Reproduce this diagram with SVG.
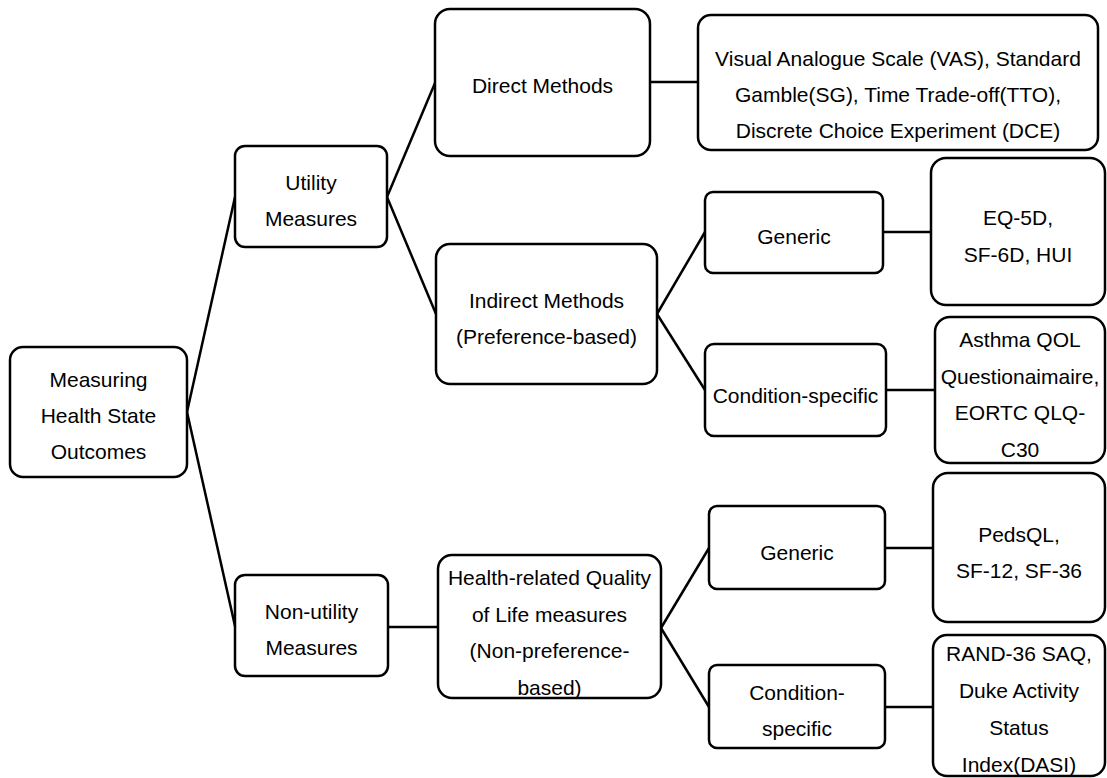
<svg xmlns="http://www.w3.org/2000/svg" width="1107" height="778" viewBox="0 0 1107 778">
<style>
  .box { fill: #ffffff; stroke: #000000; stroke-width: 2.5; }
  .conn line { stroke: #000000; stroke-width: 2.5; fill: none; }
  text { font-family: "Liberation Sans", Arial, sans-serif; font-size: 21px; fill: #000000; text-anchor: middle; }
</style>
<rect x="0" y="0" width="1107" height="778" fill="#ffffff"/>
<g id="connectors" class="conn">
  <line x1="187" y1="412" x2="235" y2="197"/>
  <line x1="187" y1="412" x2="235" y2="626"/>
  <line x1="387" y1="197" x2="435" y2="83"/>
  <line x1="387" y1="197" x2="436" y2="314"/>
  <line x1="650" y1="82" x2="698" y2="82"/>
  <line x1="657" y1="314" x2="705" y2="232"/>
  <line x1="657" y1="314" x2="705" y2="390"/>
  <line x1="883" y1="232" x2="931" y2="232"/>
  <line x1="886" y1="390" x2="935" y2="390"/>
  <line x1="388" y1="627" x2="438" y2="627"/>
  <line x1="661" y1="628" x2="709" y2="548"/>
  <line x1="661" y1="628" x2="709" y2="707"/>
  <line x1="885" y1="548" x2="933" y2="548"/>
  <line x1="885" y1="707" x2="933" y2="707"/>
</g>
<g id="root">
  <rect class="box" x="10" y="347" width="177" height="130" rx="13"/>
  <text x="98.5" y="387">Measuring</text>
  <text x="98.5" y="423">Health State</text>
  <text x="98.5" y="459">Outcomes</text>
</g>
<g id="utility">
  <rect class="box" x="235" y="146" width="152" height="101" rx="10"/>
  <text x="311" y="190">Utility</text>
  <text x="311" y="226">Measures</text>
</g>
<g id="nonutility">
  <rect class="box" x="235" y="575" width="153" height="101" rx="10"/>
  <text x="311.5" y="619">Non-utility</text>
  <text x="311.5" y="655">Measures</text>
</g>
<g id="direct">
  <rect class="box" x="435" y="9" width="215" height="147" rx="15"/>
  <text x="542.5" y="93">Direct Methods</text>
</g>
<g id="vas">
  <rect class="box" x="698" y="15" width="400" height="135" rx="13"/>
  <text x="898" y="66">Visual Analogue Scale (VAS), Standard</text>
  <text x="898" y="102">Gamble(SG), Time Trade-off(TTO),</text>
  <text x="898" y="138">Discrete Choice Experiment (DCE)</text>
</g>
<g id="indirect">
  <rect class="box" x="436" y="244" width="221" height="140" rx="14"/>
  <text x="546.5" y="308">Indirect Methods</text>
  <text x="546.5" y="344">(Preference-based)</text>
</g>
<g id="generic1">
  <rect class="box" x="705" y="192" width="178" height="81" rx="8"/>
  <text x="794" y="244">Generic</text>
</g>
<g id="eq5d">
  <rect class="box" x="931" y="158" width="174" height="147" rx="15"/>
  <text x="1018" y="225">EQ-5D,</text>
  <text x="1018" y="262">SF-6D, HUI</text>
</g>
<g id="condition1">
  <rect class="box" x="705" y="344" width="181" height="92" rx="9"/>
  <text x="795.5" y="403">Condition-specific</text>
</g>
<g id="asthma">
  <rect class="box" x="935" y="317" width="170" height="146" rx="15"/>
  <text x="1020" y="347">Asthma QOL</text>
  <text x="1020" y="384">Questionaimaire,</text>
  <text x="1020" y="420">EORTC QLQ-</text>
  <text x="1020" y="457">C30</text>
</g>
<g id="hrqol">
  <rect class="box" x="438" y="555" width="223" height="143" rx="14"/>
  <text x="549.5" y="585">Health-related Quality</text>
  <text x="549.5" y="621.5">of Life measures</text>
  <text x="549.5" y="658">(Non-preference-</text>
  <text x="549.5" y="694.5">based)</text>
</g>
<g id="generic2">
  <rect class="box" x="709" y="506" width="176" height="83" rx="8"/>
  <text x="797" y="560">Generic</text>
</g>
<g id="pedsql">
  <rect class="box" x="933" y="473" width="172" height="149" rx="15"/>
  <text x="1019" y="542">PedsQL,</text>
  <text x="1019" y="578">SF-12, SF-36</text>
</g>
<g id="condition2">
  <rect class="box" x="709" y="665" width="176" height="83" rx="8"/>
  <text x="797" y="700">Condition-</text>
  <text x="797" y="736">specific</text>
</g>
<g id="rand">
  <rect class="box" x="933" y="635" width="172" height="141" rx="14"/>
  <text x="1019" y="661">RAND-36 SAQ,</text>
  <text x="1019" y="698">Duke Activity</text>
  <text x="1019" y="735">Status</text>
  <text x="1019" y="772">Index(DASI)</text>
</g>
</svg>
